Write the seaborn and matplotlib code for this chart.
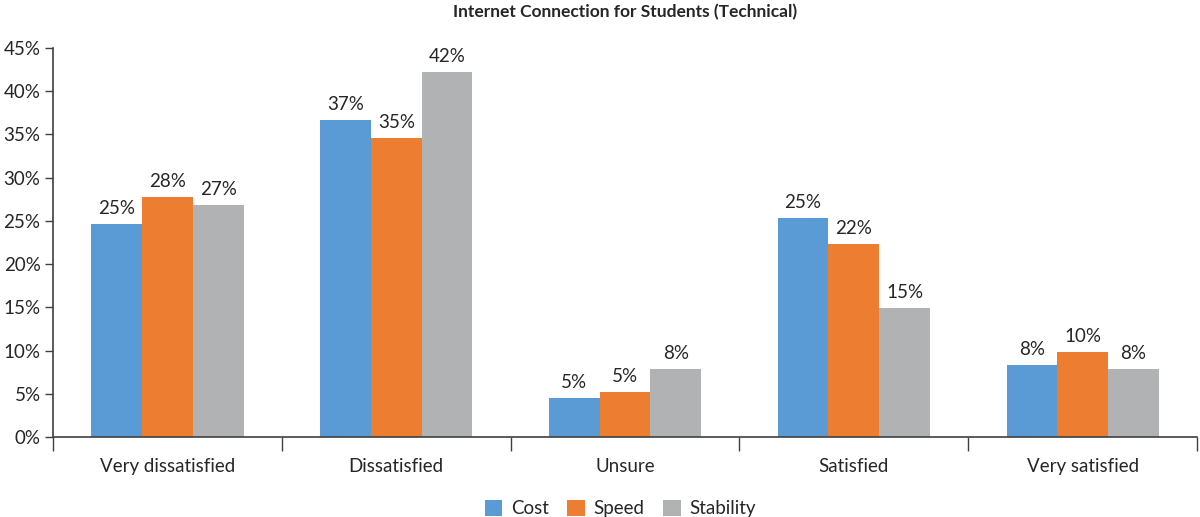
import matplotlib
matplotlib.use("Agg")
import matplotlib.pyplot as plt
import seaborn as sns
import pandas as pd
from matplotlib.ticker import FuncFormatter, FixedLocator
from matplotlib.patches import Patch

categories = ["Very dissatisfied", "Dissatisfied", "Unsure", "Satisfied", "Very satisfied"]
series = ["Cost", "Speed", "Stability"]
cost = [24.6, 36.7, 4.6, 25.3, 8.4]
speed = [27.8, 34.6, 5.2, 22.3, 9.9]
stability = [26.8, 42.2, 7.9, 14.9, 7.9]
colors = ["#5B9BD5", "#ED7D31", "#B1B2B4"]
title = "Internet Connection for Students (Technical)"

rows = []
for s, vals in zip(series, [cost, speed, stability]):
    for c, v in zip(categories, vals):
        rows.append({"category": c, "series": s, "value": v})
df = pd.DataFrame(rows)

sns.set_theme(style="white")
plt.rcParams["font.family"] = ["Lato", "DejaVu Sans"]
text_color = "#262626"
fs = 13.5

fig = plt.figure(figsize=(12, 5.17), dpi=100)
ax = fig.add_axes([0.0442, 0.154, 0.9533, 0.7537])

sns.barplot(data=df, x="category", y="value", hue="series", order=categories,
            hue_order=series, palette=colors, width=0.665, gap=0, saturation=1,
            linewidth=0, legend=False, ax=ax)

for cont, s in zip(ax.containers, series):
    vals = df[df.series == s].set_index("category").loc[categories, "value"].tolist()
    ax.bar_label(cont, labels=[f"{round(v):d}%" for v in vals], padding=5,
                 fontsize=fs, color=text_color)

ax.set_ylim(0, 45)
ax.set_xlim(-0.5, len(categories) - 0.5)
ax.yaxis.set_major_locator(FixedLocator(range(0, 46, 5)))
ax.yaxis.set_major_formatter(FuncFormatter(lambda v, p: f"{v:.0f}%"))
ax.set_xlabel("")
ax.set_ylabel("")
ax.tick_params(axis="y", which="major", length=6, width=1, color="#404040",
               labelsize=fs, labelcolor=text_color, left=True, pad=3)
ax.tick_params(axis="x", which="major", length=0, labelsize=fs,
               labelcolor=text_color, pad=15)
ax.set_xticks([i - 0.5 for i in range(len(categories) + 1)], minor=True)
ax.tick_params(axis="x", which="minor", length=10, width=1, color="#404040", bottom=True)
for sp in ["top", "right"]:
    ax.spines[sp].set_visible(False)
for sp in ["left", "bottom"]:
    ax.spines[sp].set_color("#404040")
    ax.spines[sp].set_linewidth(1.2)

ax.set_title(title, fontsize=12.5, fontweight="bold", color=text_color, pad=22)

handles = [Patch(facecolor=c, edgecolor="none") for c in colors]
fig.legend(handles, series, loc="lower center", bbox_to_anchor=(0.517, -0.033), ncol=3,
           frameon=False, fontsize=fs, handlelength=0.95, handleheight=0.95,
           handletextpad=0.45, columnspacing=1.0, labelcolor=text_color)

fig.savefig("out.png", dpi=100)
